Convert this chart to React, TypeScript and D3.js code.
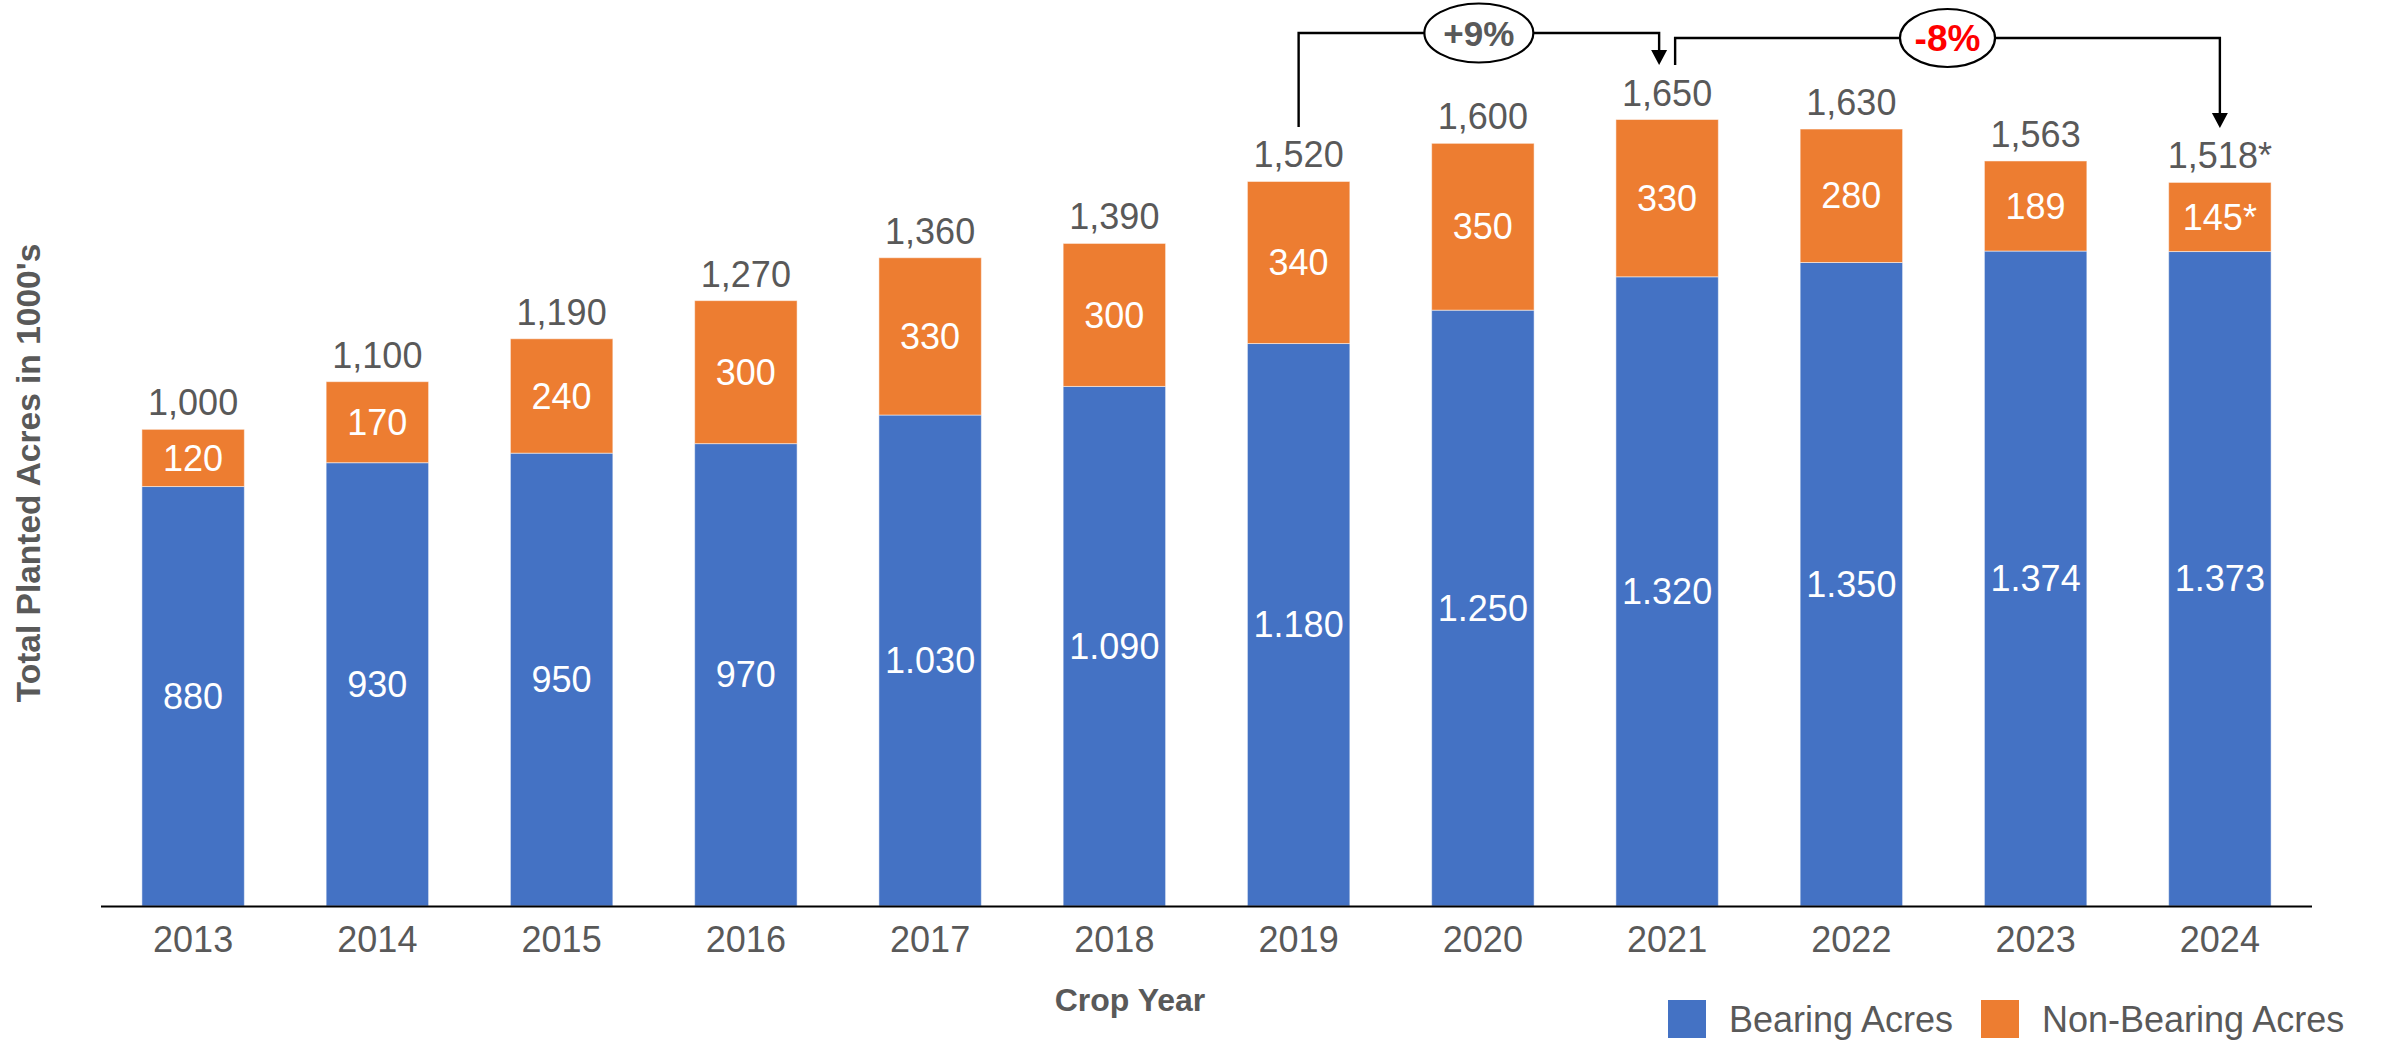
import React, { useMemo } from "react";
import * as d3 from "d3";

const years = ["2013", "2014", "2015", "2016", "2017", "2018", "2019", "2020", "2021", "2022", "2023", "2024"];
const bearingAcres = [880, 930, 950, 970, 1030, 1090, 1180, 1250, 1320, 1350, 1374, 1373];
const nonBearingAcres = [120, 170, 240, 300, 330, 300, 340, 350, 330, 280, 189, 145];
const totalAcres = [1000, 1100, 1190, 1270, 1360, 1390, 1520, 1600, 1650, 1630, 1563, 1518];
const estimatedYears = ["2024"];

const changeFrom = ["2019", "2021"];
const changeTo = ["2021", "2024"];
const changeLabels = ["+9%", "-8%"];

const seriesNames = ["Bearing Acres", "Non-Bearing Acres"];

const W = 2384;
const H = 1044;
const BLUE = "#4472C4";
const ORANGE = "#ED7D31";
const GREY = "#595959";
const FONT = "'Liberation Sans', Arial, sans-serif";

// annotation look, one entry per change bracket
const bracketStyle = [
  { y: 33, startOff: 0, endOff: -8, rx: 54.5, ry: 29.5, color: GREY, size: 35 },
  { y: 38, startOff: 8, endOff: 0, rx: 47.5, ry: 29, color: "#FF0000", size: 37 },
];

const dotThousands = d3.formatLocale({ decimal: ",", thousands: ".", grouping: [3], currency: ["", ""] }).format(",d");
const commaThousands = d3.format(",d");

export default function App() {
  const x = useMemo(
    () => d3.scaleBand<string>().domain(years).range([101, 2312]).paddingInner(0.444).paddingOuter(0.222),
    []
  );
  const y = useMemo(() => d3.scaleLinear().domain([0, 1800]).range([906, 48]), []);

  const rows = years.map((yr, i) => ({ year: yr, bearing: bearingAcres[i], nonBearing: nonBearingAcres[i] }));
  const stacked = d3.stack<any>().keys(["bearing", "nonBearing"])(rows);
  const colors = [BLUE, ORANGE];
  const bw = x.bandwidth();
  const cx = (yr: string) => (x(yr) as number) + bw / 2;
  const star = (yr: string) => (estimatedYears.includes(yr) ? "*" : "");

  return (
    <svg width={W} height={H} style={{ position: "absolute", left: 0, top: 0, background: "#fff" }} fontFamily={FONT}>
      {/* stacked bars */}
      {stacked.map((layer, li) =>
        layer.map((d, i) => (
          <rect
            key={`${li}-${i}`}
            x={x(years[i])}
            y={y(d[1])}
            width={bw}
            height={y(d[0]) - y(d[1])}
            fill={colors[li]}
            stroke="#ffffff"
            strokeOpacity={0.5}
            strokeWidth={1}
          />
        ))
      )}

      {/* segment labels */}
      {stacked.map((layer, li) =>
        layer.map((d, i) => {
          const v = d[1] - d[0];
          const txt = li === 0 ? dotThousands(v) : `${v}${star(years[i])}`;
          return (
            <text
              key={`l${li}-${i}`}
              x={cx(years[i])}
              y={(y(d[0]) + y(d[1])) / 2}
              dy="0.35em"
              textAnchor="middle"
              fontSize={36}
              fill="#fff"
            >
              {txt}
            </text>
          );
        })
      )}

      {/* totals */}
      {years.map((yr, i) => (
        <text key={`t${yr}`} x={cx(yr)} y={y(totalAcres[i]) - 14} textAnchor="middle" fontSize={36} fill={GREY}>
          {commaThousands(totalAcres[i]) + star(yr)}
        </text>
      ))}

      {/* x axis */}
      <line x1={x.range()[0]} x2={x.range()[1]} y1={y(0) + 0.5} y2={y(0) + 0.5} stroke="#000" strokeWidth={2} />
      {years.map((yr) => (
        <text key={`x${yr}`} x={cx(yr)} y={952} textAnchor="middle" fontSize={36} fill={GREY}>
          {yr}
        </text>
      ))}
      <text x={1130} y={1011} textAnchor="middle" fontSize={32} fontWeight="bold" fill={GREY}>
        Crop Year
      </text>
      <text transform="translate(40,473) rotate(-90)" textAnchor="middle" fontSize={33.5} fontWeight="bold" fill={GREY}>
        Total Planted Acres in 1000's
      </text>

      {/* change brackets */}
      {changeLabels.map((lab, k) => {
        const st = bracketStyle[k];
        const i0 = years.indexOf(changeFrom[k]);
        const i1 = years.indexOf(changeTo[k]);
        const sx = cx(changeFrom[k]) + st.startOff;
        const ex = cx(changeTo[k]) + st.endOff;
        const sy = y(totalAcres[i0]) - 54.5;
        const tipY = y(totalAcres[i1]) - 54.5;
        const mid = (sx + ex) / 2;
        return (
          <g key={`c${k}`}>
            <path
              d={`M${sx},${sy}V${st.y}H${ex}V${tipY - 14}`}
              fill="none"
              stroke="#000"
              strokeWidth={2.4}
            />
            <path d={`M${ex - 8},${tipY - 15}L${ex + 8},${tipY - 15}L${ex},${tipY}Z`} fill="#000" />
            <ellipse cx={mid} cy={st.y} rx={st.rx} ry={st.ry} fill="#fff" stroke="#000" strokeWidth={2.2} />
            <text x={mid} y={st.y} dy="0.36em" textAnchor="middle" fontSize={st.size} fontWeight="bold" fill={st.color}>
              {lab}
            </text>
          </g>
        );
      })}

      {/* legend */}
      {seriesNames.map((name, i) => {
        const lx = i === 0 ? 1668 : 1981;
        return (
          <g key={name}>
            <rect x={lx} y={1000} width={38} height={38} fill={colors[i]} />
            <text x={lx + 61} y={1032} fontSize={36} fill={GREY}>
              {name}
            </text>
          </g>
        );
      })}
    </svg>
  );
}
